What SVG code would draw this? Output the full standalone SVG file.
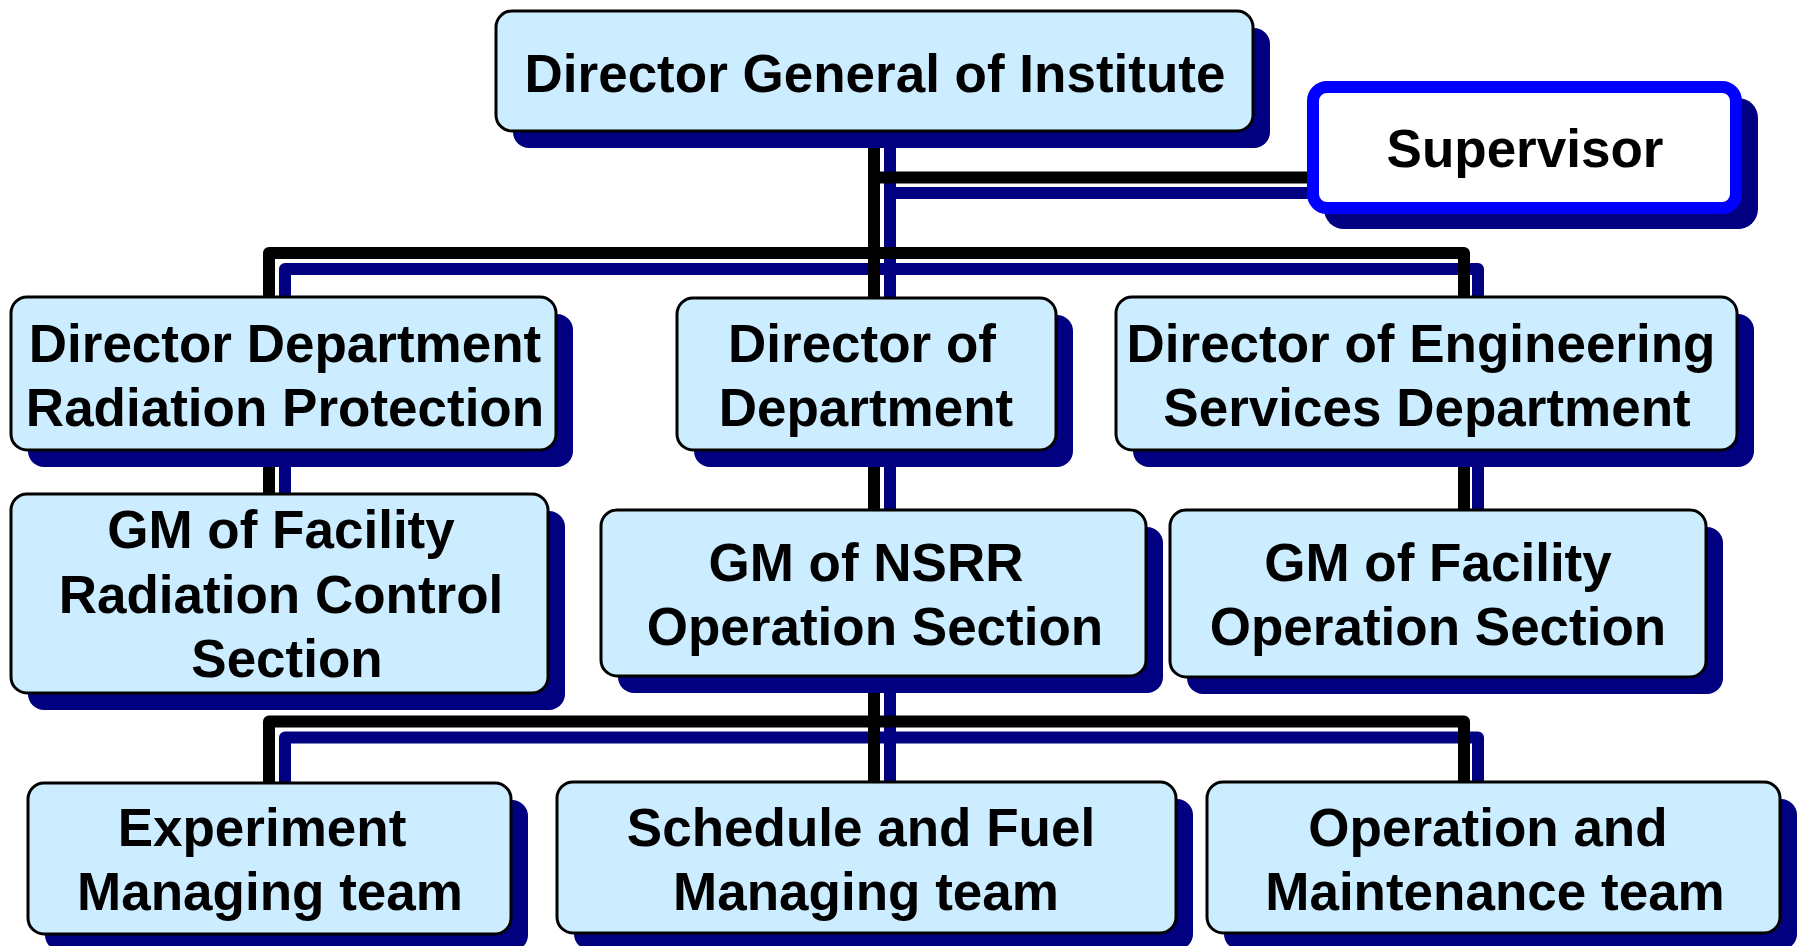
<svg xmlns="http://www.w3.org/2000/svg" width="1803" height="946" viewBox="0 0 1803 946">
<style>
.bg{fill:#ffffff}
.ln{fill:none;stroke-width:12;stroke-linejoin:round;stroke-linecap:butt}
.nv{stroke:#000080}
.bk{stroke:#000000}
.sh{fill:#000080}
.bx{fill:#CCECFF;stroke:#000000;stroke-width:3}
.sv{fill:#ffffff;stroke:#0000FF;stroke-width:12}
text{font-family:"Liberation Sans",Arial,sans-serif;font-weight:bold;font-size:53px;fill:#000000;text-anchor:middle}
</style>
<rect class="bg" x="0" y="0" width="1803" height="946"/>
<g id="connectors">
  <path class="ln nv" d="M890 131 V782"/>
  <path class="ln nv" d="M890 193 H1313"/>
  <path class="ln nv" d="M285 500 V269 H1478 V515"/>
  <path class="ln nv" d="M285 790 V737.5 H1478 V790"/>
  <path class="ln bk" d="M874 131 V782"/>
  <path class="ln bk" d="M874 177.5 H1313"/>
  <path class="ln bk" d="M269 500 V253 H1464 V515"/>
  <path class="ln bk" d="M269 790 V721.5 H1464 V790"/>
</g>
<g id="director-general">
  <rect class="sh" x="513" y="28" width="757" height="120" rx="16"/>
  <rect class="bx" x="496" y="11" width="757" height="120" rx="16"/>
  <text x="875" y="92">Director General of Institute</text>
</g>
<g id="supervisor">
  <rect class="sh" x="1324" y="98" width="434" height="131" rx="20"/>
  <rect class="sv" x="1313" y="87" width="423" height="121" rx="14"/>
  <text x="1525" y="167">Supervisor</text>
</g>
<g id="dir-rad-protection">
  <rect class="sh" x="28" y="314" width="545" height="153" rx="16"/>
  <rect class="bx" x="11" y="297" width="545" height="153" rx="16"/>
  <text x="285" y="362">Director Department</text>
  <text x="285" y="426">Radiation Protection</text>
</g>
<g id="dir-department">
  <rect class="sh" x="694" y="315" width="379" height="152" rx="16"/>
  <rect class="bx" x="677" y="298" width="379" height="152" rx="16"/>
  <text x="862" y="362">Director of</text>
  <text x="866" y="426">Department</text>
</g>
<g id="dir-engineering">
  <rect class="sh" x="1133" y="314" width="621" height="153" rx="16"/>
  <rect class="bx" x="1116" y="297" width="621" height="153" rx="16"/>
  <text x="1421" y="362">Director of Engineering</text>
  <text x="1427" y="426">Services Department</text>
</g>
<g id="gm-rad-control">
  <rect class="sh" x="28" y="511" width="537" height="199" rx="16"/>
  <rect class="bx" x="11" y="494" width="537" height="199" rx="16"/>
  <text x="281" y="548">GM of Facility</text>
  <text x="281" y="613">Radiation Control</text>
  <text x="287" y="677">Section</text>
</g>
<g id="gm-nsrr">
  <rect class="sh" x="618" y="527" width="545" height="166" rx="16"/>
  <rect class="bx" x="601" y="510" width="545" height="166" rx="16"/>
  <text x="866" y="581">GM of NSRR</text>
  <text x="875" y="645">Operation Section</text>
</g>
<g id="gm-facility-operation">
  <rect class="sh" x="1187" y="527" width="536" height="167" rx="16"/>
  <rect class="bx" x="1170" y="510" width="536" height="167" rx="16"/>
  <text x="1438" y="581">GM of Facility</text>
  <text x="1438" y="645">Operation Section</text>
</g>
<g id="experiment-team">
  <rect class="sh" x="45" y="800" width="483" height="151" rx="16"/>
  <rect class="bx" x="28" y="783" width="483" height="151" rx="16"/>
  <text x="262" y="846">Experiment</text>
  <text x="270" y="910">Managing team</text>
</g>
<g id="schedule-fuel-team">
  <rect class="sh" x="574" y="799" width="619" height="151" rx="16"/>
  <rect class="bx" x="557" y="782" width="619" height="151" rx="16"/>
  <text x="861" y="846">Schedule and Fuel</text>
  <text x="866" y="910">Managing team</text>
</g>
<g id="operation-maintenance-team">
  <rect class="sh" x="1224" y="799" width="573" height="151" rx="16"/>
  <rect class="bx" x="1207" y="782" width="573" height="151" rx="16"/>
  <text x="1488" y="846">Operation and</text>
  <text x="1495" y="910">Maintenance team</text>
</g>
</svg>
